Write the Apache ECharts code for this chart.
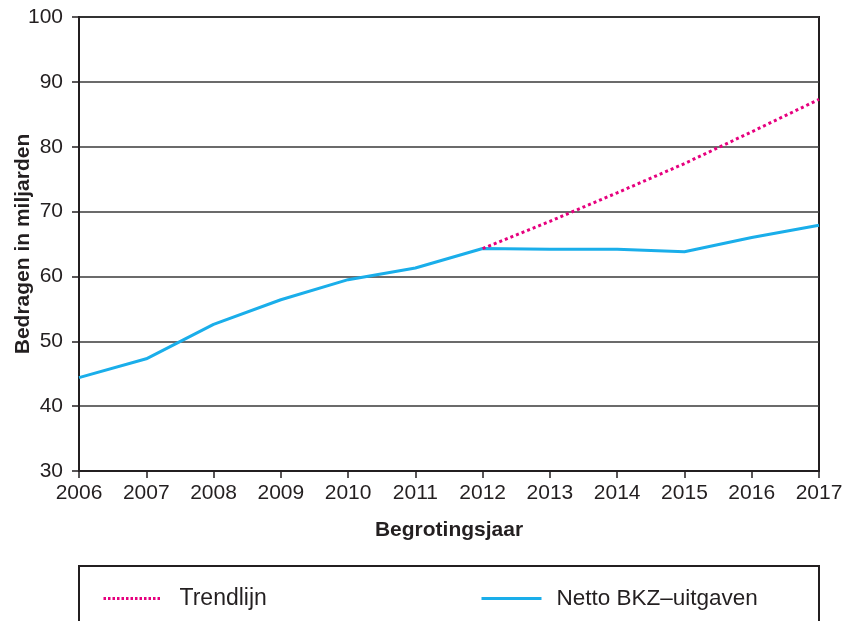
<!DOCTYPE html>
<html>
<head>
<meta charset="utf-8">
<script src="https://cdn.jsdelivr.net/npm/echarts@6/dist/echarts.min.js"></script>
<style>
  html, body { margin: 0; padding: 0; background: #fff; }
  #chart { width: 853px; height: 621px; }
</style>
</head>
<body>
<div id="chart"></div>
<script>
const years = ['2006', '2007', '2008', '2009', '2010', '2011', '2012', '2013', '2014', '2015', '2016', '2017']
// Netto BKZ-uitgaven (miljarden)
const netto = [44.4, 47.3, 52.6, 56.4, 59.5, 61.3, 64.3, 64.2, 64.2, 63.8, 66.0, 67.9]
// trendlijn vanaf 2012
const trend = [null, null, null, null, null, null, 64.3, 68.5, 72.9, 77.4, 82.3, 87.3]

const ink = '#231f20'
const font = 'Liberation Sans, Arial, sans-serif'

const chart = echarts.init(document.getElementById('chart'))

chart.setOption({
  animation: false,
  grid: {
    left: 79, right: 34, top: 17, bottom: 150,
    outerBoundsMode: 'none', containLabel: false,
    show: true, borderColor: ink, borderWidth: 2
  },
  legend: [
    {
      data: ['Trendlijn'], left: 102, top: 587, padding: 0, itemWidth: 58, itemHeight: 20,
      itemStyle: { opacity: 0 },
      lineStyle: { width: 3, type: [2.5, 2] },
      textStyle: { fontFamily: font, fontSize: 23, color: ink, padding: [0, 0, 0, 13] }
    },
    {
      data: ['Netto BKZ\u2013uitgaven'], left: 480, top: 587, padding: 0, itemWidth: 60, itemHeight: 20,
      itemStyle: { opacity: 0 },
      lineStyle: { width: 3 },
      textStyle: { fontFamily: font, fontSize: 22.5, color: ink, padding: [0, 0, 0, 10] }
    }
  ],
  xAxis: {
    type: 'category',
    data: years,
    boundaryGap: false,
    name: 'Begrotingsjaar',
    nameLocation: 'middle',
    nameGap: 49,
    nameMoveOverlap: false,
    nameTextStyle: { fontFamily: font, fontSize: 21, fontWeight: 'bold', color: ink },
    axisLine: { lineStyle: { color: ink, width: 2 } },
    axisTick: { length: 7, lineStyle: { color: ink, width: 1.5 } },
    axisLabel: { fontFamily: font, fontSize: 21, color: ink, margin: 12 },
    splitLine: { show: false }
  },
  yAxis: {
    type: 'value',
    min: 30, max: 100, interval: 10,
    name: 'Bedragen in miljarden',
    nameLocation: 'middle',
    nameGap: 45,
    nameMoveOverlap: false,
    nameTextStyle: { fontFamily: font, fontSize: 21, fontWeight: 'bold', color: ink },
    axisLine: { show: true, lineStyle: { color: ink, width: 2 } },
    axisTick: { show: true, length: 7, lineStyle: { color: ink, width: 1.5 } },
    axisLabel: { fontFamily: font, fontSize: 21, color: ink, margin: 16 },
    splitLine: { lineStyle: { color: '#3a3a3a', width: 1.5 } }
  },
  graphic: [
    {
      type: 'rect',
      shape: { x: 79, y: 566, width: 740, height: 100 },
      style: { fill: 'none', stroke: ink, lineWidth: 2 }
    }
  ],
  series: [
    {
      name: 'Trendlijn',
      type: 'line',
      data: trend,
      symbol: 'none',
      lineStyle: { color: '#e6007e', width: 3, type: [3, 3] },
      itemStyle: { color: '#e6007e' },
      z: 3
    },
    {
      name: 'Netto BKZ\u2013uitgaven',
      type: 'line',
      data: netto,
      symbol: 'none',
      lineStyle: { color: '#1aaeea', width: 3 },
      itemStyle: { color: '#1aaeea' },
      z: 2
    }
  ]
})
</script>
</body>
</html>
